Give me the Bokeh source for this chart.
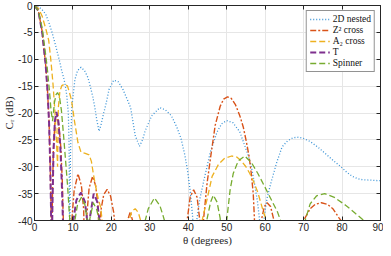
from bokeh.plotting import figure
from bokeh.models import ColumnDataSource, LinearAxis, FixedTicker, Legend
from bokeh.embed import file_html
from bokeh.resources import INLINE

# ---------------- data ----------------
nested_theta = [0, 1, 2, 2.9, 3.8, 4.6, 5.4, 5.9, 6.5, 7.1, 7.6, 8.0, 8.4, 8.8, 9.0, 9.15, 9.35, 9.7,
                10.5, 11.2, 12.1, 13.0, 13.9, 14.6, 15.2, 15.7, 16.2, 16.8, 17.3, 17.9, 18.6, 19.4,
                20.6, 21.8, 23.0, 24.2, 25.0, 26.2, 27.3, 28.1, 28.8, 30.5, 32.6, 34.0, 35.6, 37.0,
                38.1, 39.1, 39.8, 40.5, 41.1, 41.6, 42.2, 43.0, 44.1, 45.8, 47.5, 48.7, 50.0, 51.6,
                53.4, 55.5, 56.5, 57.2, 58.0, 58.5, 59.1, 59.8, 60.5, 61.5, 63.0, 64.4, 65.8, 67.2,
                68.7, 70.2, 71.7, 73.8, 75.9, 77.8, 79.7, 81.2, 82.7, 84.0, 85.2, 87.5, 90.0]
nested_db = [0, -0.2, -0.8, -1.6, -3.3, -5.1, -7.2, -8.6, -10.3, -12.2, -13.5, -14.8, -16.8, -20, -26, -45, -28, -19,
             -13.8, -12.1, -11.5, -12.1, -13.4, -15.3, -17.1, -19, -21.3, -23.4, -22.2, -20.3, -18.3, -15.6,
             -13.9, -14.2, -15.6, -17.6, -19, -24.2, -26.2, -25, -23.3, -20.5, -19, -19.4, -20.5, -22.6,
             -24.7, -27.8, -30.7, -34.5, -39, -45, -40, -36, -32.4, -27.1, -23.5, -22, -21.4, -21.8,
             -23.5, -27.7, -30.3, -33, -36.5, -39.6, -45, -39, -35.8, -33, -29.2, -26.3, -25.2, -24.6,
             -24.5, -24.8, -25.3, -26.4, -27.7, -28.9, -30, -31, -31.8, -32.2, -32.4, -32.5, -32.6]

z2_theta = [0, 1, 2, 2.9, 3.4, 3.8, 4.1, 4.3, 4.45, 4.6, 4.9, 5.3, 5.8, 6.3, 6.8, 7.2, 7.5, 7.7,
            9.4, 9.7, 10.3, 11.3, 12.2, 12.8, 13.1, 13.5, 14.2, 15.1, 15.9, 16.5, 16.9, 17.3, 18.0,
            18.9, 19.8, 20.6, 21.1, 21.5, 23.6, 24.2, 24.9, 25.5, 26.0, 39.2, 39.7, 40.5, 41.4, 42.3,
            43.0, 43.3, 43.6, 44.0, 44.9, 45.8, 47.0, 48.3, 49.2, 50.2, 51.2, 52.3, 53.4, 54.3, 55.1,
            55.8, 56.4, 56.9, 57.2, 57.5, 58.5, 59.0, 59.8, 60.5, 61.4, 62.3, 62.7, 69.6, 70.0, 71.7,
            73.0, 74.6, 76.2, 77.6, 79.2, 79.7, 80.2, 90.0]
z2_db = [0, -1, -4.8, -11, -16, -22, -30, -38, -50, -38, -27, -22, -20.6, -22, -26, -32, -40, -50,
         -50, -40, -34.5, -31.3, -33.5, -38, -50, -40, -34, -31.8, -33.5, -37, -45, -38, -35.2,
         -34.2, -35.5, -38.5, -42, -50, -50, -40, -38.4, -40, -50, -50, -40, -35.6, -34.3, -35.7,
         -40, -50, -44, -39.6, -33, -28.3, -22.3, -18.75, -17.4, -17, -17.3, -18.5, -20.5, -22.6, -25.3,
         -28, -31.3, -35, -39.6, -50, -50, -40, -37.4, -36.7, -37.4, -40, -50, -50, -40, -37.8,
         -37, -36.7, -37, -37.8, -39.5, -40, -50, -50]

a2_theta = [0, 1, 2, 3, 3.7, 4.3, 4.8, 5.3, 5.7, 6.0, 6.2, 6.6, 7.1, 7.9, 8.6, 9.6, 10.4, 11.3,
            12.1, 13.2, 14.2, 14.8, 15.3, 16.0, 16.6, 17.2, 17.6, 18.0, 24.2, 24.6, 25.3, 26.2,
            27.0, 27.6, 28.0, 43.2, 43.6, 44.9, 46.2, 47.9, 49.5, 51.3, 52.6, 53.8, 55.0, 56.0,
            57.0, 58.1, 59.3, 60.3, 60.7, 90.0]
a2_db = [0, -0.5, -2, -4.5, -6.5, -10.5, -14.5, -19.5, -25, -30, -19, -16, -14.9, -14.6, -15, -17.5, -21.5, -25.5,
         -27.3, -27.5, -27.8, -29, -31.3, -34, -36, -37.5, -40, -50, -50, -40, -38.3, -37.8,
         -38.5, -40, -50, -50, -40, -36, -31.8, -29.5, -28.4, -28, -28.2, -28.9, -30, -31.25,
         -32.8, -34.8, -37.8, -40, -50, -50]

t_theta = [0, 1, 2, 2.9, 3.4, 3.8, 4.1, 4.3, 4.45, 4.65, 4.95, 5.3, 5.7, 6.2, 6.7, 7.1, 7.4, 7.6,
           9.8, 10.1, 10.9, 12.1, 13.1, 13.7, 14.0, 14.3, 15.4, 16.3, 16.9, 17.2, 90.0]
t_db = [0, -1, -5, -11, -16, -22, -30, -38, -50, -38, -27, -21.5, -19.8, -21.5, -26, -33, -40, -50,
        -50, -40, -36.2, -34.8, -36.5, -40, -50, -40, -35, -36.5, -40, -50, -50]

sp_theta = [0, 1, 2, 2.7, 3.3, 3.9, 4.3, 4.7, 5.2, 5.6, 6.0, 6.5, 7.0, 7.6, 8.1, 8.6, 9.0, 9.2, 9.5,
            10.2, 10.5, 11.2, 12.2, 13.1, 13.7, 14.0, 14.3, 15.3, 16.2, 16.8, 17.1, 28.4, 28.8,
            29.6, 31.2, 32.6, 33.4, 33.8, 34.2, 44.3, 44.8, 45.8, 46.5, 47.5, 48.3, 48.6, 49.7,
            50.0, 50.9, 51.7, 53.0, 54.7, 56.4, 58.1, 59.8, 61.5, 63.2, 64.0, 64.4, 70.0, 70.4,
            71.7, 73.4, 75.5, 78.0, 81.0, 83.5, 85.7, 86.2, 90.0]
sp_db = [0, -1, -4.2, -8, -11.5, -16, -19.5, -21.5, -18, -16.6, -16.2, -17, -19.5, -24.5, -29, -33.5, -38, -40, -50,
         -50, -40, -37, -35.7, -37, -40, -50, -40, -36.7, -38, -40, -50, -50, -40,
         -37.8, -35.8, -37.2, -39, -40, -50, -50, -40, -36.6, -35.3, -36.6, -39.6, -50, -50,
         -40, -34.2, -31.25, -28.9, -28, -29.2, -31.25, -33.6, -36, -38.4, -40, -50, -50, -40,
         -36.9, -35.4, -35, -35.7, -37.2, -38.7, -40, -50, -50]

series_names = ["2D nested", "Z\u00b2 cross", "A\u2082 cross", "T", "Spinner"]
x_ticks = [0, 10, 20, 30, 40, 50, 60, 70, 80, 90]
y_ticks = [0, -5, -10, -15, -20, -25, -30, -35, -40]

# ---------------- figure ----------------
p = figure(width=383, height=248, x_range=(0, 90), y_range=(-40, 0),
           output_backend="svg", toolbar_location=None,
           min_border_left=32, min_border_right=3, min_border_top=5, min_border_bottom=24)
p.background_fill_color = "white"
p.border_fill_color = "white"
p.outline_line_color = "#262626"
p.outline_line_width = 1

axis_col = "#262626"
tick_font = "Liberation Sans"
label_font = "Liberation Serif"

for ax, ticks in ((p.xaxis[0], x_ticks), (p.yaxis[0], y_ticks)):
    ax.ticker = FixedTicker(ticks=ticks)
    ax.major_label_overrides = {t: str(t) for t in ticks}
    ax.major_tick_in = 4
    ax.major_tick_out = 0
    ax.minor_tick_line_color = None
    ax.axis_line_color = axis_col
    ax.major_tick_line_color = axis_col
    ax.major_label_text_color = axis_col
    ax.major_label_text_font = tick_font
    ax.major_label_text_font_size = "10px"
    ax.axis_label_text_font = label_font
    ax.axis_label_text_font_style = "normal"
    ax.axis_label_text_font_size = "11px"
    ax.axis_label_text_color = axis_col

p.xaxis.axis_label = "\u03b8 (degrees)"
p.yaxis.axis_label = "C\u1d63 (dB)"
p.xaxis.major_label_standoff = 2
p.xaxis.axis_label_standoff = 0
p.yaxis.major_label_standoff = 2
p.yaxis.axis_label_standoff = 0

for loc, ticks in (("above", x_ticks), ("right", y_ticks)):
    ax = LinearAxis(ticker=FixedTicker(ticks=ticks))
    ax.major_label_text_font_size = "1px"
    ax.major_label_text_color = None
    ax.major_label_standoff = 0
    ax.major_tick_in = 4
    ax.major_tick_out = 0
    ax.minor_tick_line_color = None
    ax.axis_line_color = axis_col
    ax.major_tick_line_color = axis_col
    p.add_layout(ax, loc)

p.xgrid.ticker = FixedTicker(ticks=x_ticks)
p.ygrid.ticker = FixedTicker(ticks=y_ticks)
p.grid.grid_line_color = "#e6e6e6"
p.grid.grid_line_width = 1

styles = [
    (nested_theta, nested_db, "#3a93d6", "1 2", 1.3),
    (z2_theta, z2_db, "#D95319", "6 2 2 2", 1.4),
    (a2_theta, a2_db, "#EDB120", "6 3", 1.3),
    (t_theta, t_db, "#7E2F8E", "6 3", 2.0),
    (sp_theta, sp_db, "#77AC30", "6 3", 1.3),
]
items = []
for (th, db, col, dash, lw), name in zip(styles, series_names):
    src = ColumnDataSource(dict(theta=th, db=db))
    r = p.line("theta", "db", source=src, line_color=col, line_dash=dash, line_width=lw)
    items.append((name, [r]))

legend = Legend(items=items, location="top_right")
legend.label_text_font = label_font
legend.label_text_font_size = "9.5px"
legend.label_text_color = "#111111"
legend.label_height = 10
legend.glyph_height = 10
legend.glyph_width = 20
legend.label_standoff = 3
legend.spacing = 1
legend.padding = 3
legend.margin = 5
legend.border_line_color = "#262626"
legend.border_line_width = 1
legend.background_fill_color = "white"
legend.background_fill_alpha = 1
p.add_layout(legend, "center")

open("out.html", "w").write(file_html(p, INLINE))
